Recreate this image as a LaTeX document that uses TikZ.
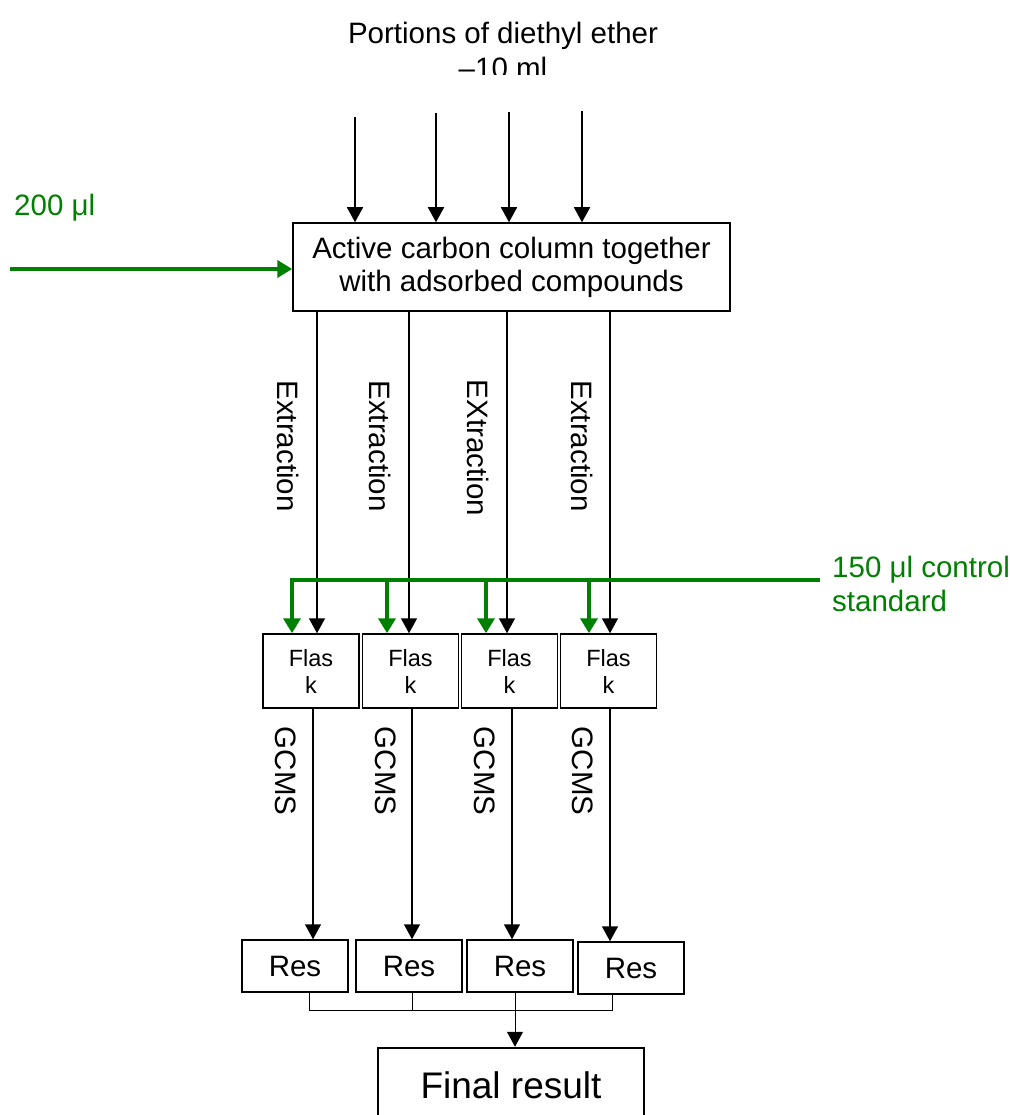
\documentclass[tikz,border=0pt]{standalone}
\usepackage{fontspec}
\setmainfont{Liberation Sans}
\usetikzlibrary{arrows.meta}
\definecolor{grn}{RGB}{0,128,0}
\newcommand{\fs}[2]{\fontsize{#1}{#2}\selectfont}

\begin{document}
\begin{tikzpicture}[x=1pt,y=-1pt,
  box/.style={draw,line width=1.5pt,inner sep=0pt,align=center,font=\fs{29.5}{33}},
  flaskbox/.style={box,minimum width=96pt,minimum height=74pt,font=\fs{23.5}{27}},
  resbox/.style={box,minimum width=106pt,minimum height=52pt},
  arr/.style={line width=1.5pt,-{Triangle[length=15pt,width=16pt]}},
  lnk/.style={line width=1pt},
  garr/.style={grn,line width=4.5pt,-{Triangle[length=15pt,width=17pt]}},
  lbl/.style={rotate=-90,inner sep=0pt,font=\fs{29.5}{33}},
  glbl/.style={grn,inner sep=0pt,align=left,font=\fs{29.5}{34}}]
  \clip (0,0) rectangle (1009,1115);
  % ether portions
  \begin{scope}
    \clip (0,0) rectangle (1009,75);
    \node[align=center,inner sep=0pt,font=\fs{29.5}{35}] (ether) at (503,50)
      {Portions of diethyl ether\\–10 ml};
  \end{scope}
  \coordinate (p1) at (355,117);
  \coordinate (p2) at (436,113);
  \coordinate (p3) at (509,112);
  \coordinate (p4) at (582,111);

  % column
  \node[box,minimum width=437pt,minimum height=88pt] (col) at (511.5,267)
    {Active carbon column together\\with adsorbed compounds};
  \foreach \i in {1,...,4}
    \draw[arr] (p\i) -- (p\i |- col.north);

  % 200 ul in
  \node[glbl,anchor=base west] (inlbl) at (14,216) {200 μl};
  \coordinate (in) at (10,269);
  \draw[garr] (in) -- (in -| col.west);

  % flasks
  \node[flaskbox] (fl1) at (311,671) {Flas\\k};
  \node[flaskbox] (fl2) at (410.5,671) {Flas\\k};
  \node[flaskbox] (fl3) at (509.5,671) {Flas\\k};
  \node[flaskbox] (fl4) at (608.5,671) {Flas\\k};

  % extraction
  \foreach \i/\dx in {1/6,2/-1.5,3/-2.5,4/1.5}{
    \path ([xshift=\dx]fl\i.north) coordinate (ex\i);
    \draw[arr] (ex\i |- col.south) -- (ex\i);
  }
  \node[lbl] (ext1) at (288,446) {Extraction};
  \node[lbl] (ext2) at (380,446) {Extraction};
  \node[lbl] (ext3) at (478,448) {EXtraction};
  \node[lbl] (ext4) at (582,446) {Extraction};

  % control standard
  \coordinate (gs) at (820,580);
  \node[glbl,anchor=north west] (stdlbl) at (832,556) {150 μl control\\standard};
  \foreach \i/\dx in {1/-19,2/-23.5,3/-23.5,4/-19.5}
    \path ([xshift=\dx]fl\i.north) coordinate (g\i);
  \draw[garr,line join=miter] (gs) -| (g1);
  \foreach \i in {2,3,4}
    \draw[garr] (g\i |- gs) -- (g\i);

  % results
  \node[resbox] (r1) at (295,966) {Res};
  \node[resbox] (r2) at (409,966) {Res};
  \node[resbox] (r3) at (520,966) {Res};
  \node[resbox] (r4) at (631,968) {Res};
  \foreach \i/\dx in {1/2,2/1.5,3/2.5,4/1.5}{
    \path ([xshift=\dx]fl\i.south) coordinate (gc\i);
    \draw[arr] (gc\i) -- (gc\i |- r\i.north);
  }
  \node[lbl] (gcms1) at (286,771) {GCMS};
  \node[lbl] (gcms2) at (386,771) {GCMS};
  \node[lbl] (gcms3) at (485,771) {GCMS};
  \node[lbl] (gcms4) at (583,771) {GCMS};

  % final
  \node[box,line width=2.5pt,minimum width=266pt,minimum height=74pt,font=\fs{37}{40}]
    (fin) at (511,1085) {Final result};
  \coordinate (mrg) at (515,1010);
  \draw[lnk] ([xshift=14]r1.south) |- (mrg) -| ([xshift=-19]r4.south);
  \draw[lnk] ([xshift=3]r2.south) -- ++(0,18);
  \draw[lnk,arr,line width=1pt] ([xshift=-5]r3.south) -- ([xshift=-5]r3.south |- fin.north);
\end{tikzpicture}
\end{document}
